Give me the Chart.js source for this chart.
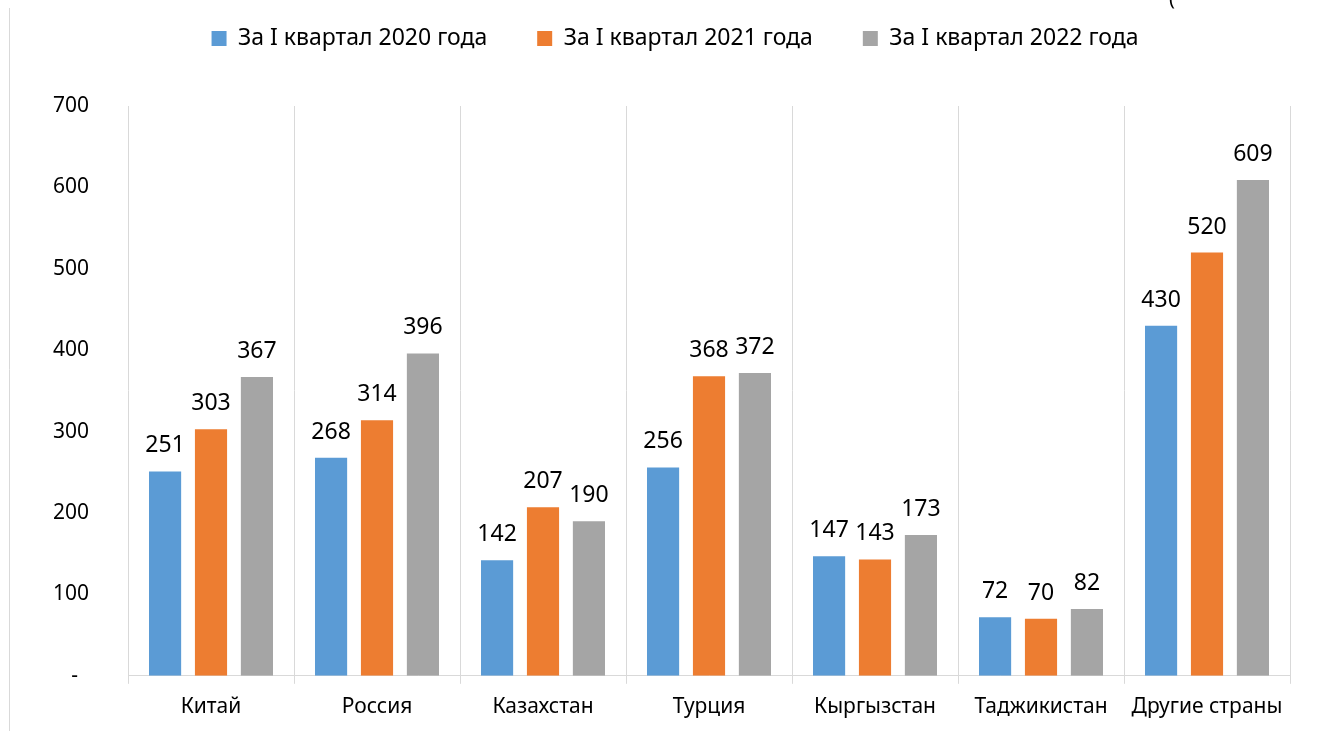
<!DOCTYPE html>
<html>
<head>
<meta charset="utf-8">
<script src="https://cdn.jsdelivr.net/npm/chart.js@4"></script>
<style>
    html, body { margin: 0; padding: 0; background: #fff; }
    #wrap { width: 1320px; height: 731px; }
</style>
</head>
<body>
<div id="wrap"><canvas id="tradeChart"></canvas></div>
<script>
const countries = ['Китай', 'Россия', 'Казахстан', 'Турция', 'Кыргызстан', 'Таджикистан', 'Другие страны'];
const q1_2020 = [251, 268, 142, 256, 147, 72, 430];
const q1_2021 = [303, 314, 207, 368, 143, 70, 520];
const q1_2022 = [367, 396, 190, 372, 173, 82, 609];
const seriesNames = ['За I квартал 2020 года', 'За I квартал 2021 года', 'За I квартал 2022 года'];
const yTicks = [0, 100, 200, 300, 400, 500, 600, 700];

const FONT = '"Noto Sans", sans-serif';
const GRID = '#d9d9d9';

// legend: extra room below it, and nudged right like in the source
const legendSpacer = {
    id: 'legendSpacer',
    beforeInit(chart) {
        const fit = chart.legend.fit;
        chart.legend.fit = function () {
            fit.bind(chart.legend)();
            this.height += 46;
        };
    },
    afterLayout(chart) {
        chart.legend.left += 30;
        chart.legend.right += 30;
    },
};

// frame line on the left + value labels over bars
const extras = {
    id: 'extras',
    beforeDraw(chart) {
        const ctx = chart.ctx;
        ctx.save();
        ctx.strokeStyle = GRID;
        ctx.lineWidth = 1;
        ctx.beginPath();
        ctx.moveTo(9.5, 8);
        ctx.lineTo(9.5, chart.height);
        ctx.stroke();
        ctx.fillStyle = '#000';
        ctx.font = '20px ' + FONT;
        ctx.textAlign = 'center';
        ctx.textBaseline = 'alphabetic';
        ctx.fillText('(', 1172, 5);
        ctx.restore();
    },
    afterDatasetsDraw(chart) {
        const ctx = chart.ctx;
        ctx.save();
        ctx.fillStyle = '#000';
        ctx.font = '23px ' + FONT;
        ctx.textAlign = 'center';
        ctx.textBaseline = 'alphabetic';
        chart.data.datasets.forEach((ds, i) => {
            chart.getDatasetMeta(i).data.forEach((bar, j) => {
                ctx.fillText(String(ds.data[j]), bar.x, bar.y - 19);
            });
        });
        ctx.restore();
    },
};

new Chart(document.getElementById('tradeChart'), {
    type: 'bar',
    data: {
        labels: countries,
        datasets: [
            { label: seriesNames[0], data: q1_2020, backgroundColor: '#5b9bd5' },
            { label: seriesNames[1], data: q1_2021, backgroundColor: '#ed7d31' },
            { label: seriesNames[2], data: q1_2022, backgroundColor: '#a5a5a5' },
        ],
    },
    options: {
        responsive: true,
        maintainAspectRatio: false,
        animation: false,
        datasets: {
            bar: { categoryPercentage: 0.83, barPercentage: 0.7 },
        },
        layout: {
            padding: { top: -23, right: 30, bottom: 0, left: 0 },
        },
        plugins: {
            legend: {
                position: 'top',
                labels: {
                    font: { family: FONT, size: 23 },
                    color: '#000',
                    boxWidth: 15,
                    boxHeight: 15,
                    padding: 50,
                },
            },
            tooltip: { enabled: false },
        },
        scales: {
            x: {
                grid: { color: GRID, tickLength: 8, offset: true },
                border: { color: GRID },
                ticks: {
                    font: { family: FONT, size: 21 },
                    color: '#000',
                    padding: 11,
                },
            },
            y: {
                min: 0,
                max: 700,
                afterBuildTicks(scale) {
                    scale.ticks = yTicks.map((v) => ({ value: v }));
                },
                afterFit(scale) {
                    scale.width = 128;
                },
                grid: { display: false, drawTicks: false },
                border: { display: false },
                ticks: {
                    font: { family: FONT, size: 21 },
                    color: '#000',
                    padding: 39,
                    callback: (v) => (v === 0 ? '-  ' : v),
                },
            },
        },
    },
    plugins: [legendSpacer, extras],
});
</script>
</body>
</html>
